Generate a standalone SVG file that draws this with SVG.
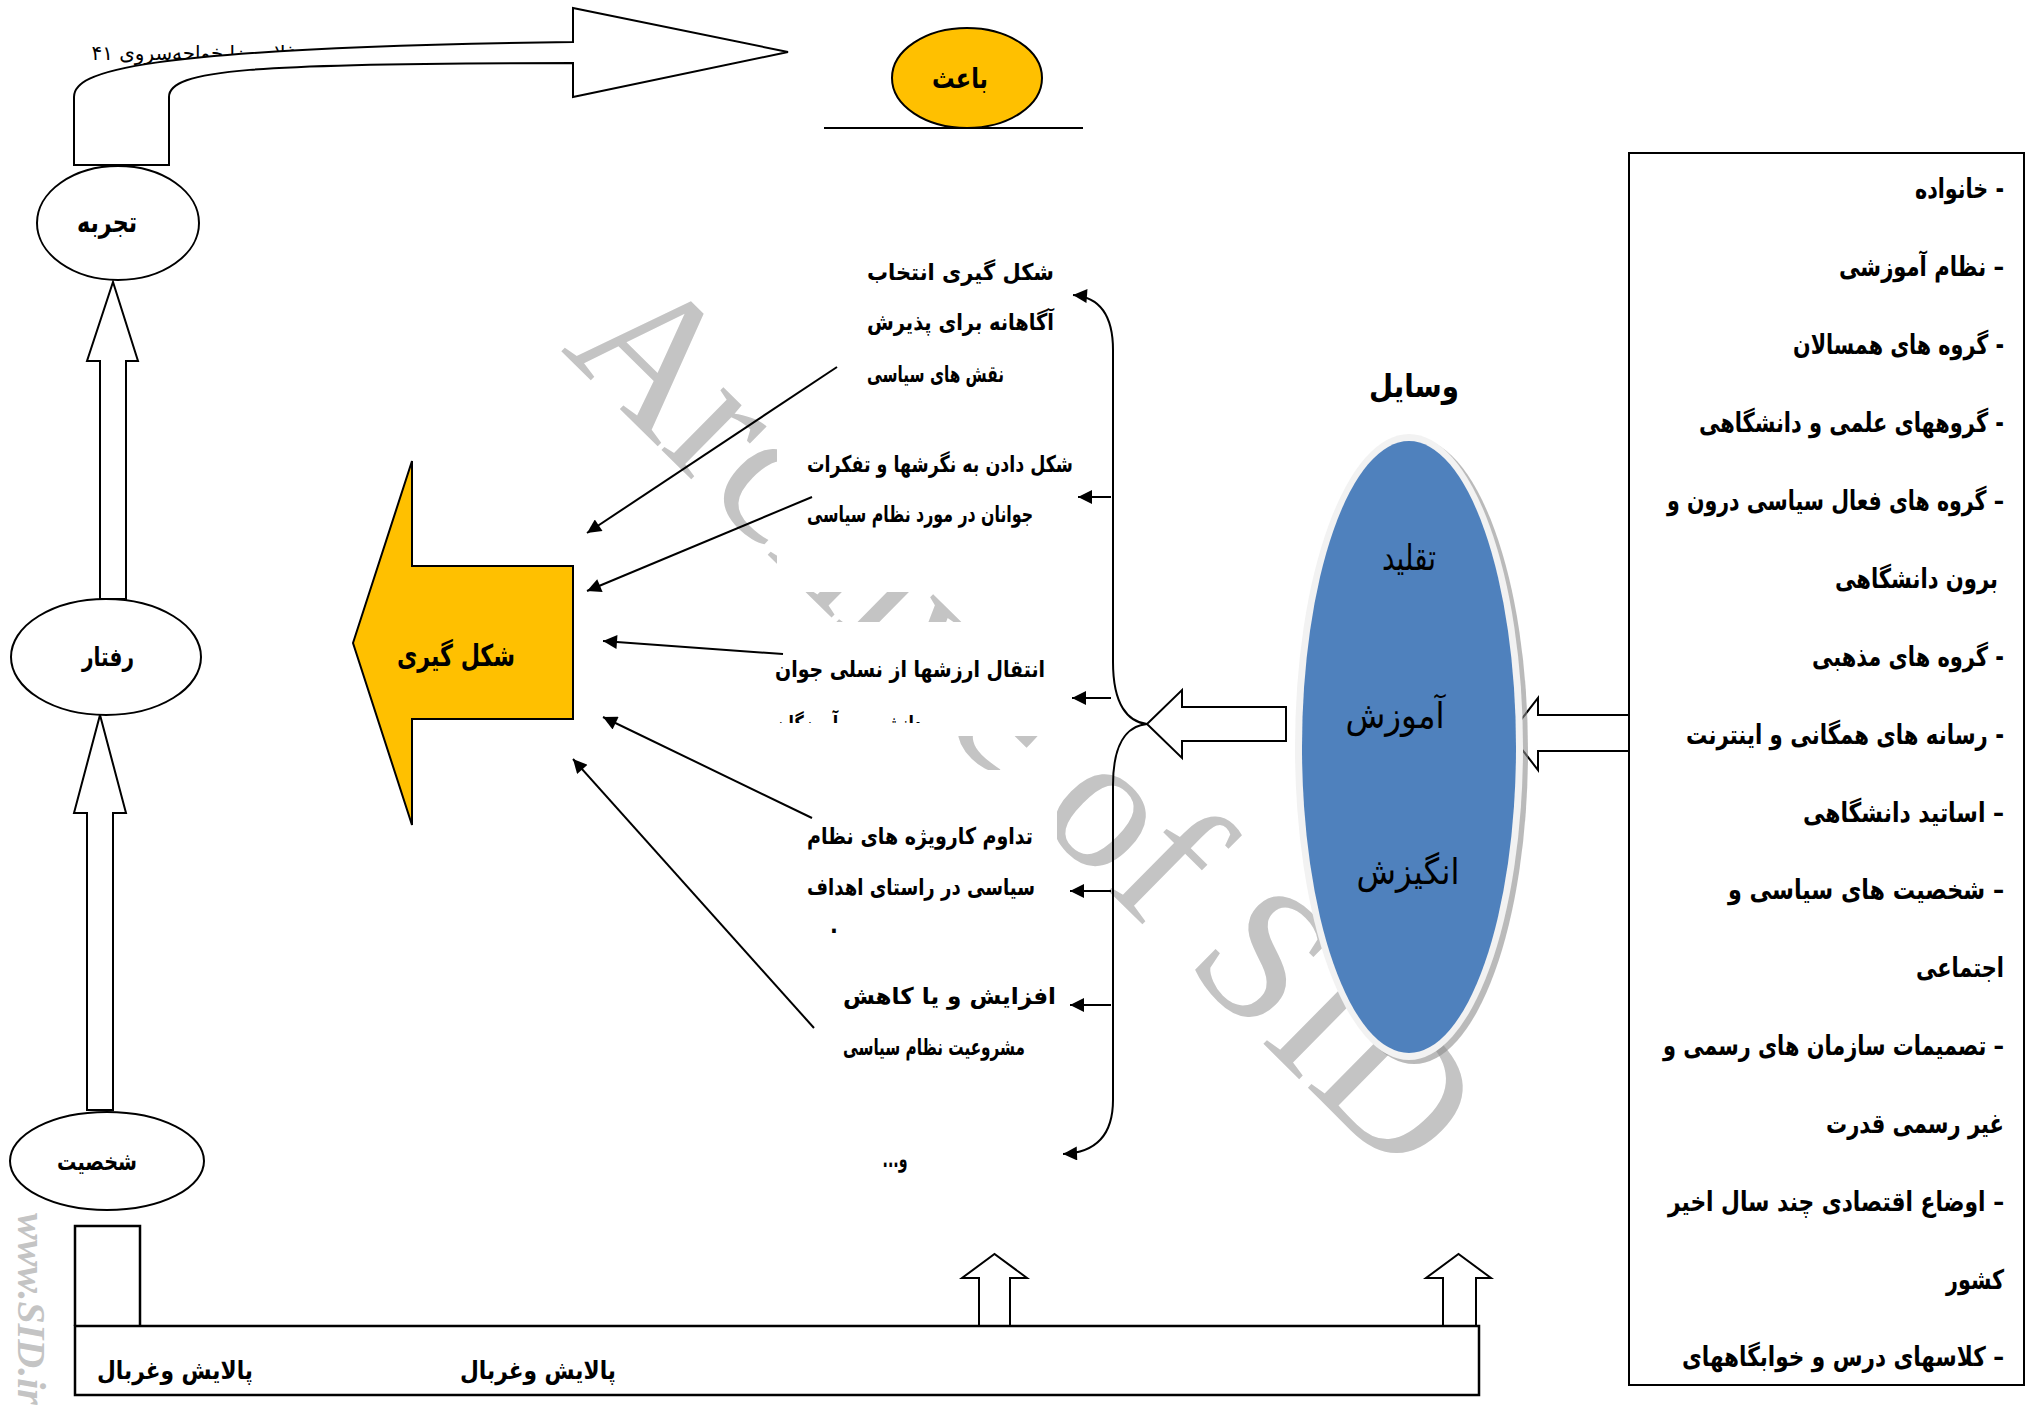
<svg xmlns="http://www.w3.org/2000/svg" width="2034" height="1408" viewBox="0 0 2034 1408">
<style>
.n{fill:#fff;stroke:#000;stroke-width:2}
.y{fill:#FFC000;stroke:#000;stroke-width:2}
.c{fill:none;stroke:#000;stroke-width:2}
.t{font-family:"DejaVu Sans",sans-serif;direction:rtl;fill:#000}
.b{font-weight:bold}
.wm{font-family:"Liberation Serif",serif;fill:#c4c4c4}
.wb{fill:#fff;stroke:none}
.li{font-family:"DejaVu Sans Condensed","DejaVu Sans",sans-serif;direction:rtl;font-weight:bold;font-size:27px}
.g{font-family:"DejaVu Sans Condensed","DejaVu Sans",sans-serif;direction:rtl;font-weight:bold;font-size:23px}
</style>
<defs>
<marker id="ah" viewBox="0 0 10 10" refX="10" refY="5" markerUnits="userSpaceOnUse" markerWidth="18" markerHeight="14" orient="auto"><path d="M0,0 L10,5 L0,10 z" fill="#000"/></marker>
<clipPath id="clip3"><rect x="760" y="700" width="320" height="23"/></clipPath>
</defs>
<rect width="2034" height="1408" fill="#fff"/>

<g id="watermark">
<text class="wm" font-size="192" transform="translate(560,350) rotate(44.6)">Archive of SID</text>
<text class="wm" font-size="40" font-weight="bold" font-style="italic" fill="#a8a8a8" transform="translate(18,1213) rotate(90)">www.SID.ir</text>
<rect class="wb" x="835" y="240" width="240" height="180"/>
<rect class="wb" x="777" y="420" width="303" height="172"/>
<rect class="wb" x="770" y="622" width="290" height="114"/>
<rect class="wb" x="800" y="770" width="257" height="170"/>
<rect class="wb" x="840" y="960" width="222" height="110"/>
</g>

<g id="citation">
<text class="t" font-size="20" x="194" y="60" text-anchor="middle" textLength="205" lengthAdjust="spacingAndGlyphs">غلامرضا خواجه‌سروی ۴۱</text>
</g>

<g id="connectors">
<path class="n" d="M74,165 L74,97 C74,72 130,48 573,42 L573,8 L788,52 L573,97 L573,63 C250,63 169,70 169,97 L169,165 Z"/>
<polygon class="n" points="100,599 100,361 87,361 113,282 138,361 126,361 126,599"/>
<polygon class="n" points="87,1110 87,813 74,813 100,715 126,813 113,813 113,1110"/>
<polygon class="n" points="979,1326 979,1278 962,1278 994.5,1254 1027,1278 1010,1278 1010,1326"/>
<polygon class="n" points="1443,1326 1443,1278 1426,1278 1458.5,1254 1491,1278 1476,1278 1476,1326"/>
<polygon class="n" points="1286,707 1182,707 1182,690 1147,724 1182,758 1182,741 1286,741"/>
<polygon class="n" points="1629,715 1538,715 1538,698 1510,734 1538,770 1538,751 1629,751"/>
<path class="c" d="M837,367 L587,533" marker-end="url(#ah)"/>
<path class="c" d="M812,497 L587,591" marker-end="url(#ah)"/>
<path class="c" d="M783,654 L603,641" marker-end="url(#ah)"/>
<path class="c" d="M812,818 L603,717" marker-end="url(#ah)"/>
<path class="c" d="M814,1028 L573,759" marker-end="url(#ah)"/>
<path class="c" d="M1113,662 L1113,350 Q1113,298 1073,295" marker-end="url(#ah)"/>
<path class="c" d="M1113,662 C1113,705 1128,722 1147,724"/>
<path class="c" d="M1147,724 C1126,726 1113,745 1113,785 L1113,1100 Q1113,1152 1063,1154" marker-end="url(#ah)"/>
<path class="c" d="M1111,497 L1078,497" marker-end="url(#ah)"/>
<path class="c" d="M1111,698 L1072,698" marker-end="url(#ah)"/>
<path class="c" d="M1111,891 L1070,891" marker-end="url(#ah)"/>
<path class="c" d="M1111,1005 L1070,1005" marker-end="url(#ah)"/>
</g>

<g id="baes">
<line x1="824" y1="128" x2="1083" y2="128" stroke="#000" stroke-width="2"/>
<ellipse class="y" cx="967" cy="78" rx="75" ry="50"/>
<text class="t b" font-size="28" x="960" y="88" text-anchor="middle" textLength="56" lengthAdjust="spacingAndGlyphs">باعث</text>
</g>

<g id="tajrobe">
<ellipse class="n" cx="118" cy="223" rx="81" ry="57"/>
<text class="t b" font-size="28" x="107" y="232" text-anchor="middle" textLength="60" lengthAdjust="spacingAndGlyphs">تجربه</text>
</g>

<g id="raftar">
<ellipse class="n" cx="106" cy="657" rx="95" ry="58"/>
<text class="t b" font-size="26" x="108" y="666" text-anchor="middle" textLength="52" lengthAdjust="spacingAndGlyphs">رفتار</text>
</g>

<g id="shakhsiat">
<ellipse class="n" cx="107" cy="1161" rx="97" ry="49"/>
<text class="t b" font-size="24" x="97" y="1170" text-anchor="middle" textLength="80" lengthAdjust="spacingAndGlyphs">شخصیت</text>
</g>

<g id="palayesh">
<path d="M75,1326 L75,1226 L140,1226 L140,1326" fill="#fff" stroke="#000" stroke-width="2.5"/>
<rect x="75" y="1326" width="1404" height="69" fill="#fff" stroke="#000" stroke-width="2.5"/>
<text class="t b" font-size="25" x="175" y="1379" text-anchor="middle" textLength="156" lengthAdjust="spacingAndGlyphs">پالایش وغربال</text>
<text class="t b" font-size="25" x="538" y="1379" text-anchor="middle" textLength="156" lengthAdjust="spacingAndGlyphs">پالایش وغربال</text>
</g>

<g id="shekl-giri">
<polygon class="y" points="353,643 412,461 412,566 573,566 573,719 412,719 412,825"/>
<text class="t b" font-size="30" x="456" y="666" text-anchor="middle" textLength="118" lengthAdjust="spacingAndGlyphs">شکل گیری</text>
</g>

<g id="outcomes">
<text class="g" x="960.5" y="280" text-anchor="middle" textLength="187" lengthAdjust="spacingAndGlyphs">شکل گیری انتخاب</text>
<text class="g" x="960.5" y="330" text-anchor="middle" textLength="187" lengthAdjust="spacingAndGlyphs">آگاهانه برای پذیرش</text>
<text class="g" x="935.5" y="382" text-anchor="middle" textLength="137" lengthAdjust="spacingAndGlyphs">نقش های سیاسی</text>
<text class="g" x="940" y="472" text-anchor="middle" textLength="266" lengthAdjust="spacingAndGlyphs">شکل دادن به نگرشها و تفکرات</text>
<text class="g" x="920" y="522" text-anchor="middle" textLength="226" lengthAdjust="spacingAndGlyphs">جوانان در مورد نظام سیاسی</text>
<text class="g" x="910" y="677" text-anchor="middle" textLength="270" lengthAdjust="spacingAndGlyphs">انتقال ارزشها از نسلی جوان</text>
<text class="g" x="848.5" y="732" text-anchor="middle" textLength="147" lengthAdjust="spacingAndGlyphs" clip-path="url(#clip3)">دانشجو به آموزگان</text>
<text class="g" x="920" y="844" text-anchor="middle" textLength="226" lengthAdjust="spacingAndGlyphs">تداوم کارویژه های نظام</text>
<text class="g" x="921" y="895" text-anchor="middle" textLength="228" lengthAdjust="spacingAndGlyphs">سیاسی در راستای اهداف</text>
<text class="g" x="834" y="933" text-anchor="middle">.</text>
<text class="g" x="949.5" y="1004" text-anchor="middle" textLength="213" lengthAdjust="spacingAndGlyphs">افزایش و یا کاهش</text>
<text class="g" x="934" y="1055" text-anchor="middle" textLength="182" lengthAdjust="spacingAndGlyphs">مشروعیت نظام سیاسی</text>
<text class="g" x="895" y="1167" text-anchor="middle" textLength="25" lengthAdjust="spacingAndGlyphs">و...</text>
</g>

<g id="vasayel">
<text class="t b" font-size="32" x="1414" y="397" text-anchor="middle" textLength="90" lengthAdjust="spacingAndGlyphs">وسایل</text>
<ellipse cx="1414" cy="751" rx="114" ry="313" fill="#8c8c8c" opacity="0.6"/>
<ellipse cx="1409" cy="747" rx="114" ry="313" fill="#F2F2F2"/>
<ellipse cx="1409" cy="747" rx="107" ry="306" fill="#4F81BD"/>
<text class="t" font-size="36" x="1409" y="570" text-anchor="middle" textLength="54" lengthAdjust="spacingAndGlyphs">تقلید</text>
<text class="t" font-size="36" x="1395" y="728" text-anchor="middle" textLength="99" lengthAdjust="spacingAndGlyphs">آموزش</text>
<text class="t" font-size="36" x="1408" y="884" text-anchor="middle" textLength="103" lengthAdjust="spacingAndGlyphs">انگیزش</text>
</g>

<g id="factors">
<rect x="1629" y="153" width="395" height="1232" fill="none" stroke="#000" stroke-width="2"/>
<text class="li" x="1959.5" y="198" text-anchor="middle" textLength="89" lengthAdjust="spacingAndGlyphs">- خانواده</text>
<text class="li" x="1921.5" y="276" text-anchor="middle" textLength="165" lengthAdjust="spacingAndGlyphs">–  نظام آموزشی</text>
<text class="li" x="1898.5" y="354" text-anchor="middle" textLength="211" lengthAdjust="spacingAndGlyphs">- گروه های همسالان</text>
<text class="li" x="1851.5" y="432" text-anchor="middle" textLength="305" lengthAdjust="spacingAndGlyphs">- گروههای علمی و دانشگاهی</text>
<text class="li" x="1835.5" y="510" text-anchor="middle" textLength="337" lengthAdjust="spacingAndGlyphs">– گروه های فعال سیاسی درون و</text>
<text class="li" x="1916.5" y="588" text-anchor="middle" textLength="163" lengthAdjust="spacingAndGlyphs">برون دانشگاهی</text>
<text class="li" x="1908" y="666" text-anchor="middle" textLength="192" lengthAdjust="spacingAndGlyphs">- گروه های مذهبی</text>
<text class="li" x="1845" y="744" text-anchor="middle" textLength="318" lengthAdjust="spacingAndGlyphs">-  رسانه های همگانی و اینترنت</text>
<text class="li" x="1903.5" y="822" text-anchor="middle" textLength="201" lengthAdjust="spacingAndGlyphs">– اساتید دانشگاهی</text>
<text class="li" x="1866" y="899" text-anchor="middle" textLength="276" lengthAdjust="spacingAndGlyphs">–  شخصیت های سیاسی و</text>
<text class="li" x="1960" y="977" text-anchor="middle" textLength="88" lengthAdjust="spacingAndGlyphs">اجتماعی</text>
<text class="li" x="1833.5" y="1055" text-anchor="middle" textLength="341" lengthAdjust="spacingAndGlyphs">– تصمیمات سازمان های رسمی و</text>
<text class="li" x="1915" y="1133" text-anchor="middle" textLength="178" lengthAdjust="spacingAndGlyphs">غیر رسمی قدرت</text>
<text class="li" x="1836" y="1211" text-anchor="middle" textLength="336" lengthAdjust="spacingAndGlyphs">– اوضاع اقتصادی چند سال اخیر</text>
<text class="li" x="1975" y="1289" text-anchor="middle" textLength="58" lengthAdjust="spacingAndGlyphs">کشور</text>
<text class="li" x="1843" y="1366" text-anchor="middle" textLength="322" lengthAdjust="spacingAndGlyphs">– کلاسهای درس و خوابگاههای</text>
</g>
</svg>
